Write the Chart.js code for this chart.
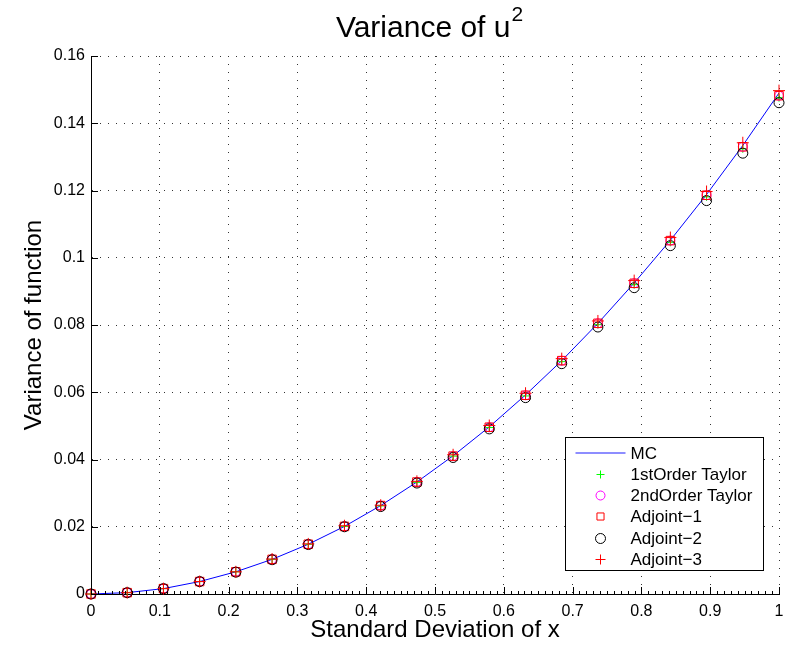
<!DOCTYPE html>
<html>
<head>
<meta charset="utf-8">
<title>Variance of u^2</title>
<script src="https://cdn.jsdelivr.net/npm/chart.js@4.4.0/dist/chart.umd.min.js"></script>
<style>
  body { margin: 0; background: #fff; }
  #chart { display: block; }
</style>
</head>
<body>
<canvas id="chart" width="795" height="647"></canvas>
<script>
// Data (sigma of x vs variance of u^2)
const sigma = [0, 0.0526, 0.1053, 0.1579, 0.2105, 0.2632, 0.3158, 0.3684, 0.4211, 0.4737,
               0.5263, 0.5789, 0.6316, 0.6842, 0.7368, 0.7895, 0.8421, 0.8947, 0.9474, 1];

const mcVar = [0, 0.0004, 0.0016, 0.0037, 0.0066, 0.0103, 0.0148, 0.0201, 0.0263, 0.0333,
               0.0411, 0.0497, 0.0592, 0.0694, 0.0805, 0.0925, 0.1052, 0.1188, 0.1334, 0.1490];
const taylor1Var = [0, 0.0004, 0.0016, 0.0037, 0.0066, 0.0103, 0.0148, 0.0201, 0.0262, 0.0332,
                    0.0410, 0.0495, 0.0589, 0.0691, 0.0801, 0.0920, 0.1046, 0.1181, 0.1324, 0.1476];
const taylor2Var = [0, 0.0004, 0.0016, 0.0037, 0.0066, 0.0103, 0.0148, 0.0201, 0.0263, 0.0333,
                    0.0410, 0.0496, 0.0591, 0.0694, 0.0805, 0.0924, 0.1051, 0.1186, 0.1330, 0.1482];
const adjoint1Var = [0, 0.0004, 0.0016, 0.0037, 0.0066, 0.0103, 0.0148, 0.0201, 0.0263, 0.0333,
                     0.0410, 0.0496, 0.0591, 0.0694, 0.0805, 0.0924, 0.1051, 0.1186, 0.1330, 0.1482];
const adjoint2Var = [0, 0.0004, 0.0016, 0.0037, 0.0065, 0.0102, 0.0147, 0.0200, 0.0260, 0.0330,
                     0.0406, 0.0491, 0.0584, 0.0685, 0.0794, 0.0911, 0.1036, 0.1170, 0.1311, 0.1461];
const adjoint3Var = [0, 0.0004, 0.0016, 0.0037, 0.0066, 0.0104, 0.0149, 0.0203, 0.0264, 0.0335,
                     0.0414, 0.0501, 0.0597, 0.0700, 0.0812, 0.0932, 0.1060, 0.1197, 0.1342, 0.1497];

const xTicks = [0, 0.1, 0.2, 0.3, 0.4, 0.5, 0.6, 0.7, 0.8, 0.9, 1];
const xTickLabels = ['0', '0.1', '0.2', '0.3', '0.4', '0.5', '0.6', '0.7', '0.8', '0.9', '1'];
const yTicks = [0, 0.02, 0.04, 0.06, 0.08, 0.1, 0.12, 0.14, 0.16];
const yTickLabels = ['0', '0.02', '0.04', '0.06', '0.08', '0.1', '0.12', '0.14', '0.16'];

const FONT = "'Liberation Sans', Arial, Helvetica, sans-serif";

function toPoints(ys) {
    return sigma.map((x, i) => ({ x: x, y: ys[i] }));
}

function markerSet(label, ys, style, color, radius, order) {
    return {
        label: label,
        data: toPoints(ys),
        showLine: false,
        clip: false,
        pointStyle: style,
        pointRadius: radius,
        pointHoverRadius: radius,
        pointBorderWidth: 1,
        pointBorderColor: color,
        pointBackgroundColor: 'rgba(0,0,0,0)',
        borderColor: color,
        order: order
    };
}

// Title with a raised "2" like the MATLAB one
const titlePlugin = {
    id: 'matlabTitle',
    afterDraw(chart) {
        const ctx = chart.ctx;
        const area = chart.chartArea;
        const base = 'Variance of u';
        ctx.save();
        ctx.fillStyle = '#000';
        ctx.textBaseline = 'alphabetic';
        ctx.font = '30px ' + FONT;
        const w1 = ctx.measureText(base).width;
        ctx.font = '21px ' + FONT;
        const w2 = ctx.measureText('2').width;
        const cx = (area.left + area.right) / 2 - 6;
        const x0 = cx - (w1 + w2) / 2;
        ctx.font = '30px ' + FONT;
        ctx.fillText(base, x0, 37);
        ctx.font = '21px ' + FONT;
        ctx.fillText('2', x0 + w1 + 1, 21);
        ctx.restore();
    }
};

// MATLAB style inward ticks (major + minor on x)
const tickPlugin = {
    id: 'inwardTicks',
    afterDatasetsDraw(chart) {
        const ctx = chart.ctx;
        const xs = chart.scales.x;
        const ys = chart.scales.y;
        const bottom = chart.chartArea.bottom;
        const left = chart.chartArea.left;
        ctx.save();
        ctx.strokeStyle = '#000';
        ctx.lineWidth = 1;
        ctx.beginPath();
        for (let k = 0; k <= 100; k++) {
            const px = Math.round(xs.getPixelForValue(k / 100)) + 0.5;
            const len = (k % 10 === 0) ? 7 : 3;
            ctx.moveTo(px, bottom);
            ctx.lineTo(px, bottom - len);
        }
        yTicks.forEach(v => {
            const py = Math.round(ys.getPixelForValue(v)) + 0.5;
            ctx.moveTo(left, py);
            ctx.lineTo(left + 7, py);
        });
        ctx.stroke();
        ctx.restore();
    }
};

// Boxed legend in the lower right corner of the axes
const legendPlugin = {
    id: 'boxLegend',
    afterDraw(chart) {
        const ctx = chart.ctx;
        const area = chart.chartArea;
        const bx = Math.round(area.right - 214) + 0.5;
        const by = Math.round(area.bottom - 157) + 0.5;
        const bw = 198;
        const bh = 133;
        ctx.save();
        ctx.fillStyle = '#fff';
        ctx.fillRect(bx, by, bw, bh);
        ctx.strokeStyle = '#000';
        ctx.lineWidth = 1;
        ctx.strokeRect(bx, by, bw, bh);

        ctx.font = '17px ' + FONT;
        ctx.textBaseline = 'middle';
        ctx.textAlign = 'left';
        chart.data.datasets.forEach((ds, i) => {
            const y = Math.round(by + 15 + i * 21.3) + 0.5;
            if (ds.showLine) {
                ctx.strokeStyle = ds.borderColor;
                ctx.globalAlpha = 0.6;
                ctx.lineWidth = 1.5;
                ctx.beginPath();
                ctx.moveTo(bx + 10, y - 0.5);
                ctx.lineTo(bx + 60, y - 0.5);
                ctx.stroke();
                ctx.globalAlpha = 1;
            } else {
                ctx.strokeStyle = ds.pointBorderColor;
                ctx.fillStyle = 'rgba(0,0,0,0)';
                ctx.lineWidth = 1;
                Chart.helpers.drawPoint(ctx, {
                    pointStyle: ds.pointStyle,
                    radius: Math.min(ds.pointRadius, 5),
                    rotation: 0,
                    borderWidth: 1
                }, bx + 35, y);
            }
            ctx.fillStyle = '#000';
            ctx.fillText(ds.label, bx + 65, y + 0.5);
        });
        ctx.restore();
    }
};

const ctx = document.getElementById('chart');
const chart = new Chart(ctx, {
    type: 'scatter',
    data: {
        datasets: [
            {
                label: 'MC',
                data: toPoints(mcVar),
                showLine: true,
                borderColor: '#0000ff',
                borderWidth: 1,
                pointRadius: 0,
                pointHoverRadius: 0,
                tension: 0,
                order: 6
            },
            markerSet('1stOrder Taylor', taylor1Var, 'cross', '#00ff00', 4, 5),
            markerSet('2ndOrder Taylor', taylor2Var, 'circle', '#ff00ff', 4.5, 4),
            markerSet('Adjoint\u22121', adjoint1Var, 'rect', '#ff0000', 6, 3),
            markerSet('Adjoint\u22122', adjoint2Var, 'circle', '#000000', 5, 2),
            markerSet('Adjoint\u22123', adjoint3Var, 'cross', '#ff0000', 6, 1)
        ]
    },
    options: {
        responsive: false,
        animation: false,
        events: [],
        layout: { padding: { top: 56, right: 16, left: 0, bottom: 0 } },
        plugins: {
            legend: { display: false },
            title: { display: false },
            tooltip: { enabled: false }
        },
        scales: {
            x: {
                type: 'linear',
                min: 0,
                max: 1,
                afterBuildTicks: s => { s.ticks = xTicks.map(v => ({ value: v })); },
                afterFit: s => { s.height = 53; },
                ticks: {
                    autoSkip: false,
                    maxRotation: 0,
                    padding: 8,
                    color: '#000',
                    font: { family: FONT, size: 16 },
                    callback: (v, i) => xTickLabels[i]
                },
                grid: {
                    color: '#333',
                    lineWidth: 1,
                    drawTicks: false
                },
                border: { display: true, color: '#000', width: 1, dash: [1, 7] },
                title: {
                    display: true,
                    text: 'Standard Deviation of x',
                    color: '#000',
                    font: { family: FONT, size: 24 },
                    padding: { top: 0, bottom: 2 }
                }
            },
            y: {
                type: 'linear',
                min: 0,
                max: 0.16,
                afterBuildTicks: s => { s.ticks = yTicks.map(v => ({ value: v })); },
                afterFit: s => { s.width = 91; },
                ticks: {
                    autoSkip: false,
                    padding: 6,
                    color: '#000',
                    font: { family: FONT, size: 16 },
                    callback: (v, i) => yTickLabels[i]
                },
                grid: {
                    color: '#333',
                    lineWidth: 1,
                    drawTicks: false
                },
                border: { display: true, color: '#000', width: 1, dash: [1, 7] },
                title: {
                    display: true,
                    text: 'Variance of function',
                    color: '#000',
                    font: { family: FONT, size: 24 },
                    padding: { top: 20, bottom: 0 }
                }
            }
        }
    },
    plugins: [tickPlugin, legendPlugin, titlePlugin]
});
</script>
</body>
</html>
